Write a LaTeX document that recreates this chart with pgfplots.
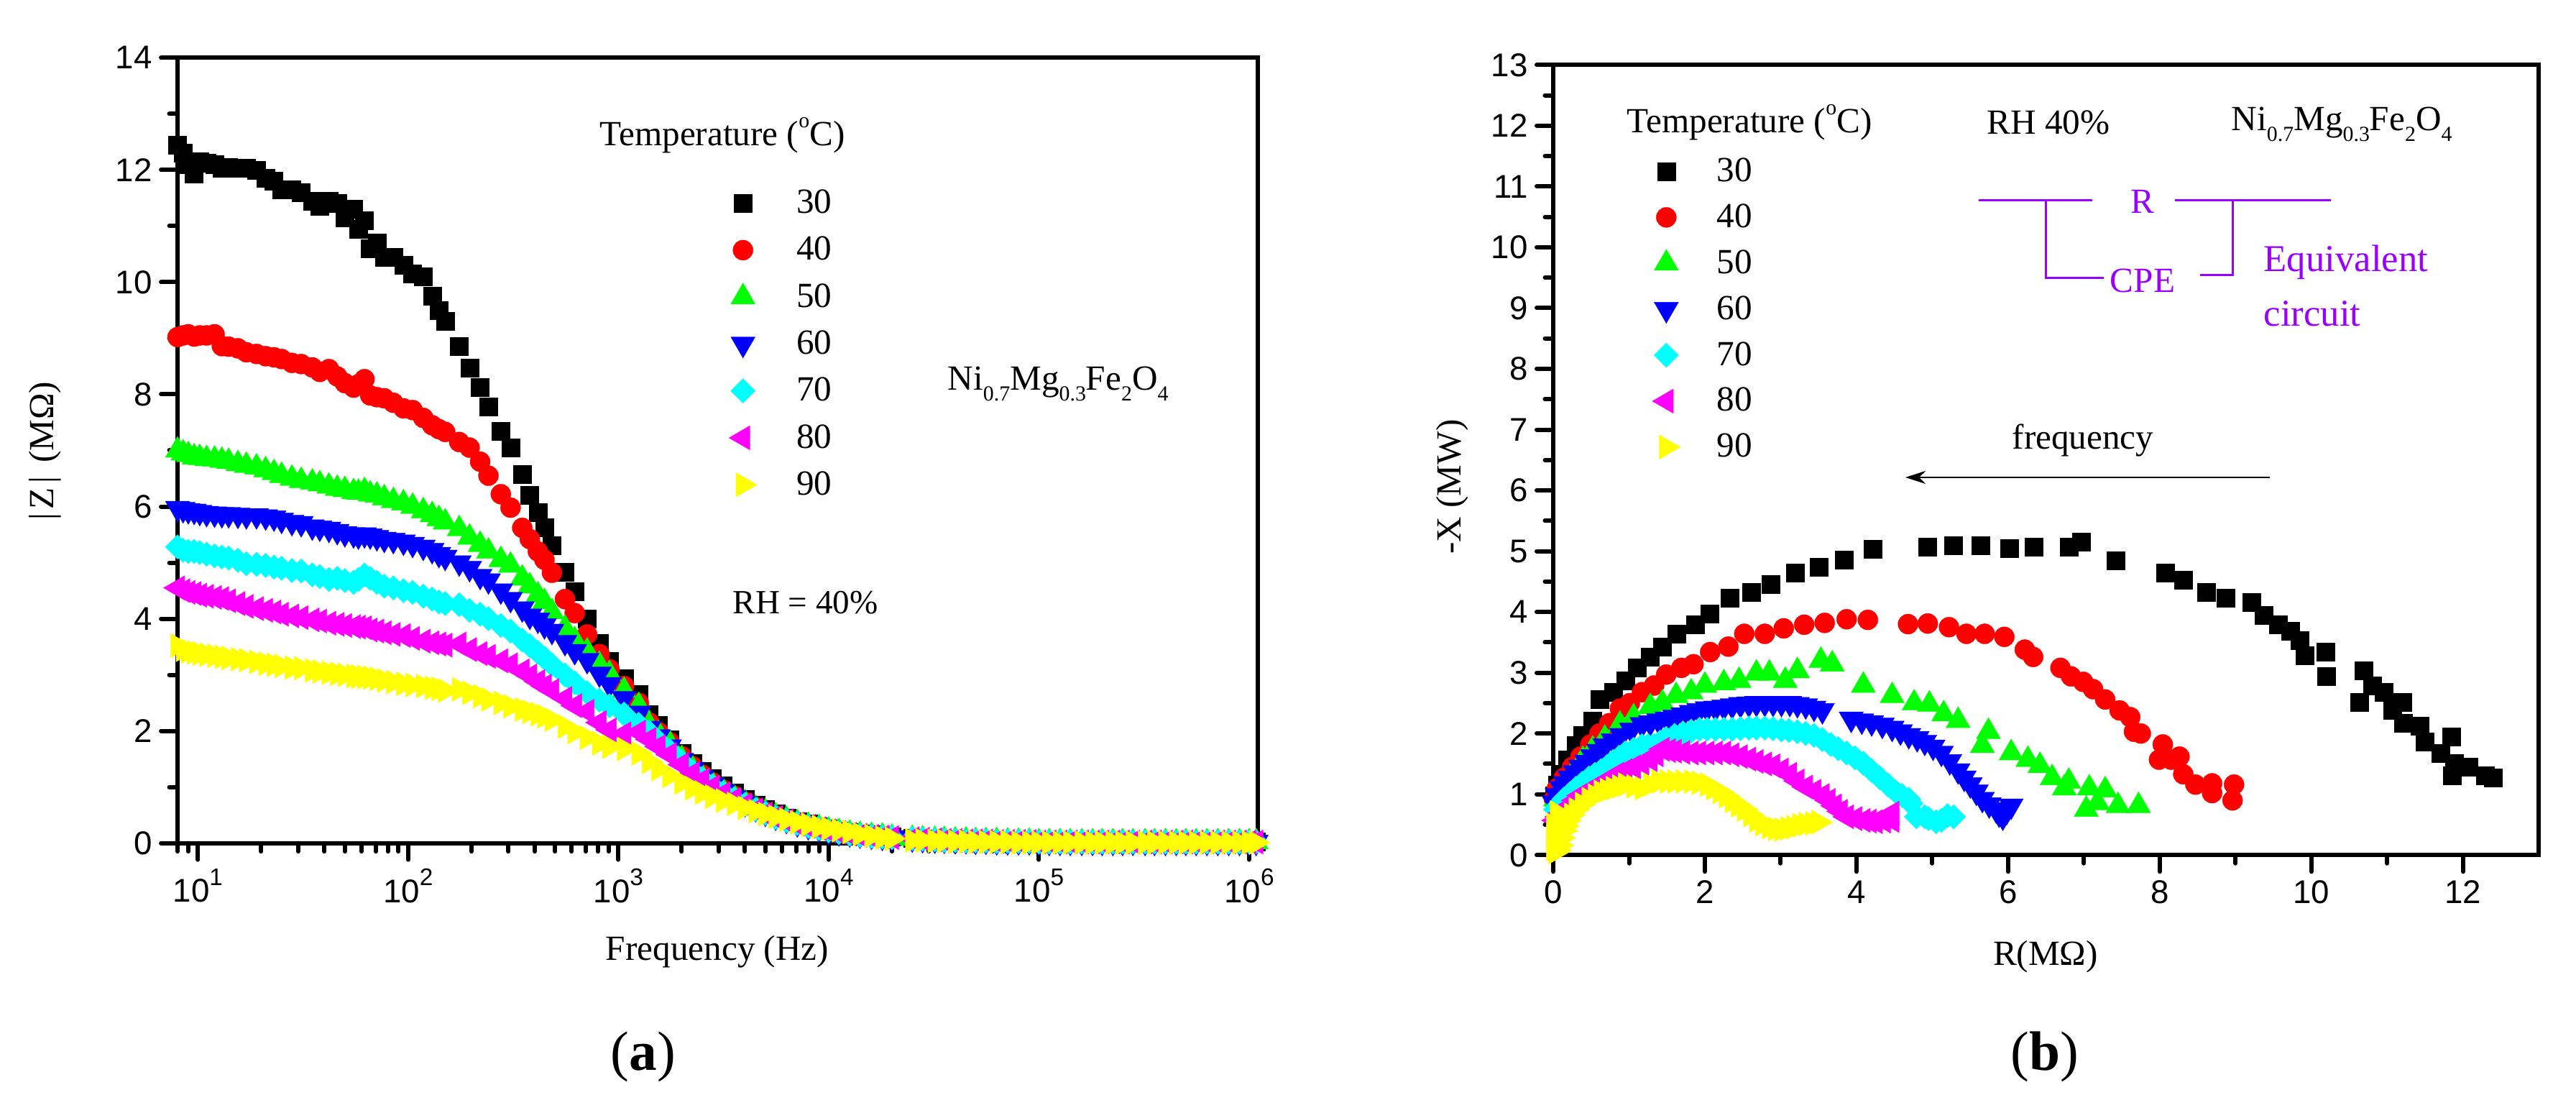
\documentclass[border=0pt]{standalone}
\usepackage{fontspec}
\setmainfont{Liberation Serif}
\newfontfamily\arial{Liberation Sans}
\usepackage{pgfplots}
\usepackage{pgfplotstable}
\pgfplotsset{compat=1.18}
\usetikzlibrary{arrows.meta}
\definecolor{circ}{HTML}{9900FF}
\definecolor{pcyan}{RGB}{0,255,255}
\definecolor{pmag}{RGB}{255,0,255}
\definecolor{pyel}{RGB}{255,255,0}
\definecolor{pgreen}{RGB}{0,255,0}
\definecolor{pred}{RGB}{255,0,0}
\definecolor{pblue}{RGB}{0,0,255}
\newcommand{\txt}{\fontsize{14}{16}\selectfont}
\newcommand{\lo}[1]{\raisebox{-.32em}{\fontsize{8.5}{9}\selectfont #1}}
\newcommand{\tenp}[1]{10\raisebox{.52em}{\fontsize{9.5}{10}\selectfont #1}}
\newcommand{\temp}{Temperature (\raisebox{.5em}{\fontsize{8.5}{9}\selectfont o}C)}
\newcommand{\nife}{Ni\lo{0.7}Mg\lo{0.3}Fe\lo{2}O\lo{4}}

% |Z| against frequency, MOhm
\pgfplotstableread{
f z30 z40 z50 z60 z70 z80 z90
8 12.45 9.02 7.0 5.97 5.28 4.55 3.52
8.5 12.3 9.05 6.95 5.95 5.22 4.5 3.45
9 12.1 9.07 6.92 5.93 5.2 4.47 3.42
9.6 11.93 9.03 6.88 5.92 5.2 4.45 3.4
10.2 12.15 9.05 6.87 5.9 5.18 4.42 3.38
11 12.12 9.05 6.85 5.88 5.15 4.4 3.36
12 12.1 9.07 6.84 5.87 5.12 4.38 3.34
13 12.03 8.86 6.82 5.86 5.1 4.36 3.32
14 12.05 8.85 6.8 5.86 5.08 4.32 3.3
15.5 12.03 8.82 6.76 5.85 5.04 4.27 3.28
17 12.03 8.75 6.73 5.84 4.98 4.22 3.26
19 12.0 8.72 6.7 5.84 4.97 4.18 3.23
21 11.85 8.68 6.65 5.82 4.95 4.15 3.2
23 11.8 8.66 6.6 5.8 4.92 4.12 3.18
25 11.65 8.63 6.55 5.76 4.9 4.08 3.16
28 11.65 8.56 6.5 5.72 4.86 4.05 3.13
31 11.6 8.54 6.46 5.7 4.85 4.02 3.12
35 11.45 8.48 6.43 5.64 4.78 3.98 3.08
38 11.35 8.4 6.4 5.62 4.75 3.96 3.06
42 11.45 8.45 6.36 5.6 4.7 3.92 3.04
46 11.4 8.32 6.32 5.56 4.72 3.9 3.02
50 11.15 8.2 6.3 5.52 4.68 3.88 3.0
55 11.3 8.12 6.26 5.5 4.65 3.86 2.98
58 10.95 8.18 6.25 5.48 4.7 3.85 2.97
62 11.1 8.27 6.28 5.5 4.78 3.84 2.96
66 10.6 7.98 6.22 5.48 4.72 3.8 2.95
71 10.7 7.95 6.2 5.45 4.65 3.78 2.93
77 10.45 7.93 6.15 5.42 4.58 3.75 2.9
85 10.45 7.85 6.1 5.4 4.55 3.72 2.87
95 10.3 7.75 6.06 5.37 4.5 3.7 2.84
105 10.15 7.72 6.0 5.33 4.47 3.65 2.82
118 10.1 7.58 5.92 5.28 4.4 3.6 2.8
130 9.75 7.45 5.85 5.22 4.35 3.57 2.77
140 9.5 7.38 5.78 5.15 4.3 3.55 2.75
150 9.3 7.33 5.72 5.1 4.27 3.53 2.72
175 8.85 7.15 5.6 5.0 4.25 3.55 2.74
196 8.47 7.05 5.45 4.9 4.15 3.45 2.68
220 8.12 6.8 5.32 4.76 4.08 3.38 2.62
241 7.78 6.55 5.2 4.68 4.0 3.33 2.56
276 7.34 6.22 5.05 4.5 3.88 3.25 2.5
307 7.05 5.98 4.95 4.35 3.78 3.18 2.44
349 6.58 5.62 4.72 4.18 3.62 3.07 2.38
379 6.2 5.42 4.58 4.05 3.52 2.98 2.34
414 5.9 5.2 4.42 3.98 3.4 2.88 2.3
445 5.63 5.05 4.3 3.88 3.3 2.8 2.26
483 5.3 4.82 4.12 3.78 3.18 2.72 2.2
557 4.83 4.35 3.83 3.58 3.0 2.58 2.08
620 4.49 4.1 3.62 3.42 2.86 2.45 1.98
710 4.0 3.72 3.42 3.26 2.68 2.35 1.88
812 3.56 3.37 3.18 3.02 2.55 2.15 1.78
906 3.24 3.1 3.02 2.83 2.45 2.02 1.72
1064 2.93 2.8 2.72 2.58 2.3 1.95 1.68
1250 2.65 2.5 2.45 2.32 2.12 1.98 1.6
1400 2.3 2.15 2.1 2.05 1.98 1.85 1.45
1550 2.1 1.98 1.95 1.9 1.82 1.72 1.32
1750 1.85 1.8 1.78 1.72 1.65 1.58 1.2
2000 1.6 1.55 1.5 1.48 1.45 1.4 1.08
2250 1.42 1.37 1.33 1.32 1.28 1.24 .98
2500 1.28 1.22 1.18 1.17 1.15 1.12 .9
2800 1.15 1.08 1.05 1.04 1.02 1.0 .83
3150 1.02 .95 .93 .92 .9 .88 .76
3550 .9 .84 .82 .81 .79 .78 .7
4000 .78 .74 .72 .71 .69 .68 .63
4500 .68 .64 .62 .62 .6 .59 .57
5000 .6 .56 .55 .54 .53 .52 .52
5600 .52 .49 .48 .47 .46 .46 .47
6300 .45 .42 .42 .41 .4 .4 .42
7100 .39 .36 .36 .35 .35 .34 .37
8000 .34 .31 .31 .3 .3 .3 .33
9000 .29 .27 .27 .26 .26 .26 .29
1e4 .25 .23 .23 .22 .22 .22 .26
1.12e4 .22 .2 .2 .19 .19 .19 .23
1.26e4 .19 .17 .17 .17 .16 .16 .2
1.41e4 .17 .15 .15 .15 .14 .14 .16
1.6e4 .15 .13 .13 .13 .12 .12 .13
1.8e4 .13 .12 .12 .11 .11 .11 .1
2e4 .12 .1 .1 .1 .1 .1 .08
2.5e4 .09 .08 .08 .08 .08 .08 .05
2.8e4 .08 .07 .07 .07 .07 .07 .05
3.2e4 .07 .06 .06 .06 .06 .06 .04
3.55e4 .06 .06 .06 .06 .05 .05 .04
4e4 .06 .05 .05 .05 .05 .05 .03
4.5e4 .05 .05 .05 .05 .04 .04 .03
5e4 .05 .04 .04 .04 .04 .04 .02
5.6e4 .04 .04 .04 .04 .04 .04 .02
6.3e4 .04 .04 .04 .03 .03 .03 .02
7.1e4 .04 .03 .03 .03 .03 .03 .02
8e4 .03 .03 .03 .03 .03 .03 .01
9e4 .03 .03 .03 .03 .03 .03 .01
1e5 .03 .02 .02 .02 .02 .02 .01
1.12e5 .03 .02 .02 .02 .02 .02 .01
1.26e5 .02 .02 .02 .02 .02 .02 .01
1.41e5 .02 .02 .02 .02 .02 .02 .01
1.6e5 .02 .02 .02 .02 .02 .02 .01
1.8e5 .02 .02 .02 .02 .02 .02 .01
2e5 .02 .02 .02 .02 .02 .02 .01
2.25e5 .02 .02 .02 .02 .02 .02 .01
2.5e5 .02 .02 .02 .02 .02 .02 .01
2.8e5 .02 .02 .02 .02 .02 .02 .01
3.2e5 .02 .02 .02 .02 .02 .02 .01
3.55e5 .02 .02 .02 .02 .02 .02 .01
4e5 .02 .02 .02 .02 .02 .02 .01
4.5e5 .02 .02 .02 .02 .02 .02 .01
5e5 .02 .02 .02 .02 .02 .02 .01
5.6e5 .02 .02 .02 .02 .02 .02 .01
6.3e5 .02 .02 .02 .02 .02 .02 .01
7.1e5 .02 .02 .02 .02 .02 .02 .01
8e5 .02 .02 .02 .02 .02 .02 .01
9e5 .02 .02 .02 .02 .02 .02 .01
1e6 .02 .02 .02 .02 .02 .02 .01
1.08e6 .02 .02 .02 .02 .02 .02 .01
}\zfreq

% Nyquist data, one table per temperature
\pgfplotstableread{
r x
12.40 1.27
12.29 1.31
12.07 1.45
11.88 1.51
11.86 1.31
11.85 1.95
11.7 1.68
11.5 1.86
11.43 2.13
11.21 2.17
11.2 2.52
11.07 2.38
10.96 2.68
10.8 2.79
10.69 3.03
10.63 2.52
10.2 2.94
10.19 3.34
9.91 3.28
9.85 3.53
9.72 3.69
9.56 3.79
9.37 3.95
9.21 4.16
8.87 4.23
8.61 4.33
8.31 4.52
8.07 4.64
7.42 4.84
6.96 5.15
6.8 5.07
6.34 5.07
6.02 5.05
5.64 5.09
5.28 5.09
4.94 5.07
4.22 5.03
3.84 4.86
3.5 4.74
3.19 4.65
2.87 4.45
2.61 4.33
2.33 4.23
2.06 3.97
1.87 3.79
1.63 3.64
1.44 3.43
1.28 3.26
1.11 3.08
.95 2.87
.79 2.68
.61 2.56
.52 2.21
.39 1.97
.3 1.8
.19 1.57
.11 1.33
.05 1.16
.02 .98
}\nyq
\pgfplotstableread{
r x
8.98 1.16
8.96 .9
8.69 1.18
8.69 1.02
8.47 1.16
8.31 1.33
8.26 1.62
8.04 1.82
7.99 1.57
8.15 1.57
7.75 2.0
7.66 2.03
7.61 2.27
7.47 2.38
7.28 2.56
7.12 2.73
6.99 2.85
6.83 2.94
6.69 3.08
6.33 3.26
6.22 3.38
5.95 3.59
5.69 3.64
5.45 3.64
5.22 3.75
4.94 3.81
4.68 3.8
4.15 3.87
3.87 3.88
3.58 3.82
3.31 3.79
3.04 3.73
2.79 3.64
2.52 3.64
2.31 3.43
2.07 3.34
1.85 3.14
1.69 3.08
1.49 2.97
1.33 2.79
1.17 2.68
1.01 2.5
.88 2.41
.74 2.17
.61 2.0
.49 1.82
.36 1.62
.25 1.45
.14 1.27
.05 1.1
.01 .92
}\nyqb
\pgfplotstableread{
r x
7.72 .81
7.28 1.07
7.45 .81
7.07 1.1
7.03 .75
7.18 .86
6.8 1.21
6.74 1.1
6.58 1.27
6.42 1.47
6.26 1.57
6.04 1.68
5.74 2.03
5.66 1.8
5.34 2.21
5.15 2.32
4.96 2.48
4.76 2.5
4.47 2.62
4.09 2.79
3.68 3.14
3.53 3.2
3.22 3.03
3.06 2.87
2.85 2.99
2.68 2.99
2.45 2.87
2.25 2.83
2.0 2.79
1.82 2.68
1.62 2.62
1.44 2.5
1.28 2.44
1.06 2.27
.88 2.15
.68 1.92
.52 1.74
.39 1.57
.25 1.33
.14 1.16
.03 .92
}\nyqc
\pgfplotstableread{
r x
6.04 .81
5.98 .72
5.93 .63
5.88 .68
5.84 .75
5.75 .83
5.66 .92
5.58 1.04
5.5 1.16
5.42 1.27
5.34 1.39
5.23 1.54
5.12 1.68
5.01 1.78
4.9 1.86
4.8 1.92
4.69 1.97
4.58 2.03
4.47 2.09
4.34 2.14
4.2 2.18
4.07 2.21
3.93 2.24
3.55 2.38
3.44 2.42
3.33 2.46
3.22 2.48
3.12 2.5
3.01 2.5
2.9 2.5
2.79 2.5
2.68 2.5
2.58 2.49
2.47 2.48
2.36 2.46
2.25 2.44
2.14 2.42
2.03 2.41
1.92 2.38
1.82 2.35
1.71 2.31
1.6 2.27
1.5 2.24
1.39 2.21
1.28 2.18
1.17 2.15
1.03 2.06
.9 1.97
.79 1.88
.68 1.8
.6 1.71
.52 1.62
.44 1.53
.36 1.45
.29 1.36
.22 1.27
.16 1.18
.11 1.1
.05 .98
.01 .86
}\nyqd
\pgfplotstableread{
r x
5.28 .63
5.2 .65
5.12 .57
5.05 .55
4.95 .6
4.9 .63
4.79 .63
4.72 .85
4.69 .92
4.6 .98
4.52 1.04
4.42 1.15
4.31 1.27
4.2 1.39
4.09 1.51
3.98 1.6
3.87 1.68
3.76 1.75
3.66 1.82
3.55 1.9
3.44 1.97
3.33 2.0
3.22 2.03
3.11 2.05
3.01 2.06
2.9 2.08
2.79 2.09
2.68 2.09
2.58 2.09
2.47 2.08
2.36 2.07
2.25 2.07
2.14 2.07
2.03 2.07
1.93 2.07
1.82 2.04
1.71 2.01
1.6 1.97
1.49 1.92
1.41 1.86
1.33 1.8
1.25 1.8
1.17 1.8
1.06 1.74
.95 1.68
.87 1.61
.79 1.54
.71 1.46
.63 1.39
.55 1.33
.47 1.27
.38 1.18
.3 1.1
.22 1.01
.14 .92
.08 .83
.03 .75
}\nyqe
\pgfplotstableread{
r x
4.47 .57
4.47 .69
4.36 .56
4.25 .55
4.17 .56
4.09 .57
3.98 .6
3.87 .63
3.79 .72
3.71 .81
3.63 .9
3.55 .98
3.44 1.05
3.33 1.12
3.22 1.22
3.12 1.33
3.01 1.4
2.9 1.47
2.79 1.5
2.68 1.54
2.58 1.58
2.47 1.62
2.36 1.65
2.25 1.68
2.14 1.68
2.03 1.68
1.92 1.68
1.82 1.68
1.71 1.69
1.6 1.71
1.52 1.72
1.44 1.74
1.36 1.65
1.28 1.57
1.17 1.51
1.06 1.45
.95 1.39
.84 1.33
.76 1.27
.68 1.21
.6 1.15
.52 1.1
.44 1.04
.36 .98
.29 .9
.22 .81
.16 .75
.11 .69
.07 .63
.03 .57
}\nyqf
\pgfplotstableread{
r x
3.5 .54
3.42 .52
3.33 .51
3.25 .49
3.17 .46
3.09 .44
3.01 .42
2.93 .43
2.85 .46
2.76 .51
2.68 .57
2.6 .66
2.52 .75
2.44 .82
2.36 .89
2.28 .97
2.2 1.04
2.11 1.1
2.03 1.16
1.92 1.19
1.82 1.21
1.71 1.21
1.6 1.21
1.5 1.21
1.39 1.21
1.28 1.16
1.17 1.1
1.06 1.13
.95 1.16
.87 1.13
.79 1.1
.71 1.07
.63 1.04
.55 .98
.47 .92
.38 .84
.3 .75
.24 .66
.19 .57
.16 .48
.14 .4
.11 .28
.09 .16
.06 .08
.03 .05
0 .1
0 .3
0 .5
.05 .7
}\nyqg

\pgfplotsset{
  panel/.style={
    scale only axis,
    anchor=south west,
    axis on top,
    axis line style={line width=.06cm},
    tick align=outside,
    xtick pos=bottom, ytick pos=left,
    tick style={line width=.06cm,black,line cap=round},
    major tick length=.23cm,
    minor tick length=.115cm,
    tick label style={font=\arial\fontsize{13}{13}\selectfont},
    /pgf/number format/assume math mode=true,
    label style={font=\txt},
    legend cell align=left,
    legend style={draw=none,fill=none,inner sep=0pt,font=\txt,
      cells={anchor=west},
      nodes={inner sep=0pt,text height=10pt,text depth=2pt}},
  },
  s30/.style={only marks,mark=square*,mark size=.125cm,black,mark options={black,fill=black,line width=.1pt}},
  s40/.style={only marks,mark=*,mark size=.14cm,pred,mark options={pred,fill=pred,line width=.1pt}},
  s50/.style={only marks,mark=triangle*,mark size=.195cm,pgreen,mark options={pgreen,fill=pgreen,line width=.1pt}},
  s60/.style={only marks,mark=triangle*,mark size=.195cm,pblue,mark options={pblue,fill=pblue,line width=.1pt,rotate=180}},
  s70/.style={only marks,mark=diamond*,mark size=.17cm,pcyan,mark options={pcyan,fill=pcyan,line width=.1pt,xscale=1.333}},
  s80/.style={only marks,mark=triangle*,mark size=.195cm,pmag,mark options={pmag,fill=pmag,line width=.1pt,rotate=90}},
  s90/.style={only marks,mark=triangle*,mark size=.195cm,pyel,mark options={pyel,fill=pyel,line width=.1pt,rotate=-90}},
}

\begin{document}
\begin{tikzpicture}
\path[use as bounding box] (0,0) rectangle (35.84,15.48);

\begin{axis}[panel,
  at={(2.47cm,3.753cm)},
  width=15.03cm, height=10.924cm,
  xmode=log, xmin=8, xmax=1.1e6,
  ymin=0, ymax=14,
  xtick={10,100,1000,10000,100000,1000000},
  xticklabels={\tenp{1},\tenp{2},\tenp{3},\tenp{4},\tenp{5},\tenp{6}},
  minor xtick={8,9,20,30,40,50,60,70,80,90,200,300,400,500,600,700,800,900,
    2000,3000,4000,5000,6000,7000,8000,9000,2e4,3e4,4e4,5e4,6e4,7e4,8e4,9e4,
    2e5,3e5,4e5,5e5,6e5,7e5,8e5,9e5},
  ytick={0,2,...,14},
  minor y tick num=1,
  xlabel={Frequency (Hz)},
  ylabel={|\kern1.5pt Z\kern1.5pt|\kern2pt\ (MΩ)},
  x label style={at={(axis description cs:.4997,-.1385)},anchor=center},
  y label style={at={(axis description cs:-.1224,.4995)},anchor=center},
  legend style={at={(axis description cs:.51,.8347)},anchor=north west,row sep=6.57pt,
    /tikz/every odd column/.append style={column sep=.55cm}},
]
\addplot[s30] table[x=f,y=z30] {\zfreq};
\addplot[s40] table[x=f,y=z40] {\zfreq};
\addplot[s50] table[x=f,y=z50] {\zfreq};
\addplot[s60] table[x=f,y=z60] {\zfreq};
\addplot[s70] table[x=f,y=z70] {\zfreq};
\addplot[s80] table[x=f,y=z80] {\zfreq};
\addplot[s90] table[x=f,y=z90] {\zfreq};
\legend{30,40,50,60,70,80,90}
\end{axis}

\begin{axis}[panel,
  at={(21.61cm,3.587cm)},
  width=13.713cm, height=10.99cm,
  xmin=0, xmax=13, ymin=0, ymax=13,
  xtick={0,2,...,12},
  minor x tick num=1,
  ytick={0,1,...,13},
  minor y tick num=1,
  xlabel={R(MΩ)},
  ylabel={-X (MW)},
  x label style={at={(axis description cs:.4995,-.129)},anchor=center},
  y label style={at={(axis description cs:-.102,.466)},anchor=center},
  legend style={at={(axis description cs:.1,.885)},anchor=north west,row sep=6.18pt,
    /tikz/every odd column/.append style={column sep=.51cm}},
]
\addplot[s30] table[x=r,y=x] {\nyq};
\addplot[s40] table[x=r,y=x] {\nyqb};
\addplot[s50] table[x=r,y=x] {\nyqc};
\addplot[s60] table[x=r,y=x] {\nyqd};
\addplot[s70] table[x=r,y=x] {\nyqe};
\addplot[s80] table[x=r,y=x] {\nyqf};
\addplot[s90] table[x=r,y=x] {\nyqg};
\legend{30,40,50,60,70,80,90}
\end{axis}

% notes, positions in reference pixels / 100
\begin{scope}[every node/.style={inner sep=0pt,font=\txt}]
\node[anchor=west] at (8.34,13.60) {\temp};
\node[anchor=west] at (13.18,10.14) {\nife};
\node[anchor=west,font=\fontsize{13.4}{16}\selectfont] at (10.19,7.10) {RH = 40\%};
\node[font=\fontsize{22}{24}\selectfont] at (8.95,.78) {(\textbf{a})};

\node[anchor=west] at (22.63,13.78) {\temp};
\node at (28.50,13.78) {RH 40\%};
\node[anchor=west] at (31.04,13.75) {\nife};
\node at (28.98,9.35) {frequency};
\draw[black,line width=.025cm,-{Stealth[length=.28cm,width=.18cm]}] (31.58,8.84) -- (26.51,8.84);
\begin{scope}[circ,line width=.03cm]
\draw (27.53,12.69) -- (29.11,12.69);
\draw (30.26,12.69) -- (32.43,12.69);
\draw (28.46,12.69) |- (29.27,11.61);
\draw (31.06,12.69) |- (30.61,11.65);
\end{scope}
\node[circ] at (29.81,12.68) {R};
\node[circ] at (29.81,11.58) {CPE};
\node[circ,anchor=west,font=\fontsize{15}{16}\selectfont] at (31.49,11.83) {Equivalent};
\node[circ,anchor=west,font=\fontsize{15}{16}\selectfont] at (31.49,11.12) {circuit};
\node[font=\fontsize{22}{24}\selectfont] at (28.45,.78) {(\textbf{b})};
\end{scope}
\end{tikzpicture}
\end{document}
